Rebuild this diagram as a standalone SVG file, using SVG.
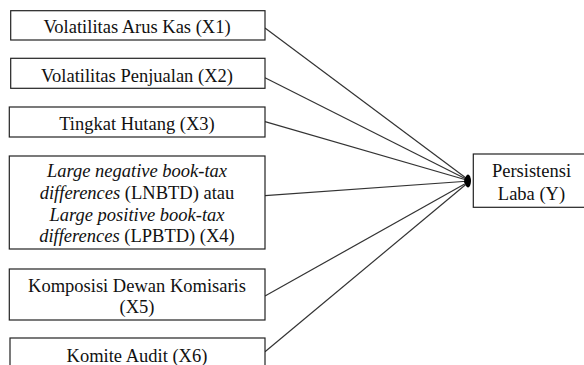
<svg xmlns="http://www.w3.org/2000/svg" width="584" height="365" viewBox="0 0 584 365">
<defs>
<style>
.box{fill:#fff;stroke:#222;stroke-width:1.2}
.c{stroke:#333;stroke-width:1.2;fill:none}
</style>
<marker id="ah" viewBox="0 0 10 10" refX="9" refY="5" markerWidth="6" markerHeight="6" orient="auto" markerUnits="userSpaceOnUse">
<path d="M0,0 L10,5 L0,10 z" fill="#000"/>
</marker>
</defs>
<rect width="584" height="365" fill="#fff"/>
<g id="connectors">
<line class="c" x1="265" y1="28" x2="470" y2="181" marker-end="url(#ah)"/>
<line class="c" x1="265" y1="77.7" x2="470" y2="181" marker-end="url(#ah)"/>
<line class="c" x1="265" y1="121.7" x2="470" y2="181" marker-end="url(#ah)"/>
<line class="c" x1="265" y1="195.7" x2="470" y2="181" marker-end="url(#ah)"/>
<line class="c" x1="265" y1="296" x2="470" y2="181" marker-end="url(#ah)"/>
<line class="c" x1="265" y1="351.7" x2="470" y2="181" marker-end="url(#ah)"/>
<ellipse cx="468" cy="181" rx="3" ry="6.5" fill="#000"/>
</g>
<g id="x1">
<rect class="box" x="10.7" y="10.7" width="254.3" height="29.3"/>
<text font-family="Liberation Serif" font-size="18.5" text-anchor="middle" fill="#111" x="137" y="33">Volatilitas Arus Kas (X1)</text>
</g>
<g id="x2">
<rect class="box" x="10.7" y="58.3" width="254.3" height="30"/>
<text font-family="Liberation Serif" font-size="18.5" text-anchor="middle" fill="#111" x="137" y="81.5">Volatilitas Penjualan (X2)</text>
</g>
<g id="x3">
<rect class="box" x="9.3" y="107" width="255.7" height="30"/>
<text font-family="Liberation Serif" font-size="18.5" text-anchor="middle" fill="#111" x="137" y="130">Tingkat Hutang (X3)</text>
</g>
<g id="x4">
<rect class="box" x="9.3" y="156" width="255.7" height="93"/>
<text font-family="Liberation Serif" font-size="18.5" text-anchor="middle" fill="#111" font-style="italic" x="137" y="177">Large negative book-tax</text>
<text font-family="Liberation Serif" font-size="18.5" text-anchor="middle" fill="#111" x="137" y="199"><tspan font-style="italic">differences</tspan> (LNBTD) atau</text>
<text font-family="Liberation Serif" font-size="18.5" text-anchor="middle" fill="#111" font-style="italic" x="137" y="220.5">Large positive book-tax</text>
<text font-family="Liberation Serif" font-size="18.5" text-anchor="middle" fill="#111" x="137" y="242"><tspan font-style="italic">differences</tspan> (LPBTD) (X4)</text>
</g>
<g id="x5">
<rect class="box" x="9.3" y="269" width="255.7" height="51"/>
<text font-family="Liberation Serif" font-size="18.5" text-anchor="middle" fill="#111" x="137" y="291.5">Komposisi Dewan Komisaris</text>
<text font-family="Liberation Serif" font-size="18.5" text-anchor="middle" fill="#111" x="137" y="313">(X5)</text>
</g>
<g id="x6">
<rect class="box" x="10" y="338" width="255" height="40"/>
<text font-family="Liberation Serif" font-size="18.5" text-anchor="middle" fill="#111" x="137" y="361.5">Komite Audit (X6)</text>
</g>
<g id="y">
<rect class="box" x="473.3" y="154" width="120" height="53.3"/>
<text font-family="Liberation Serif" font-size="18.5" text-anchor="middle" fill="#111" x="531.5" y="176.5">Persistensi</text>
<text font-family="Liberation Serif" font-size="18.5" text-anchor="middle" fill="#111" x="531.5" y="199.5">Laba (Y)</text>
</g>
</svg>
